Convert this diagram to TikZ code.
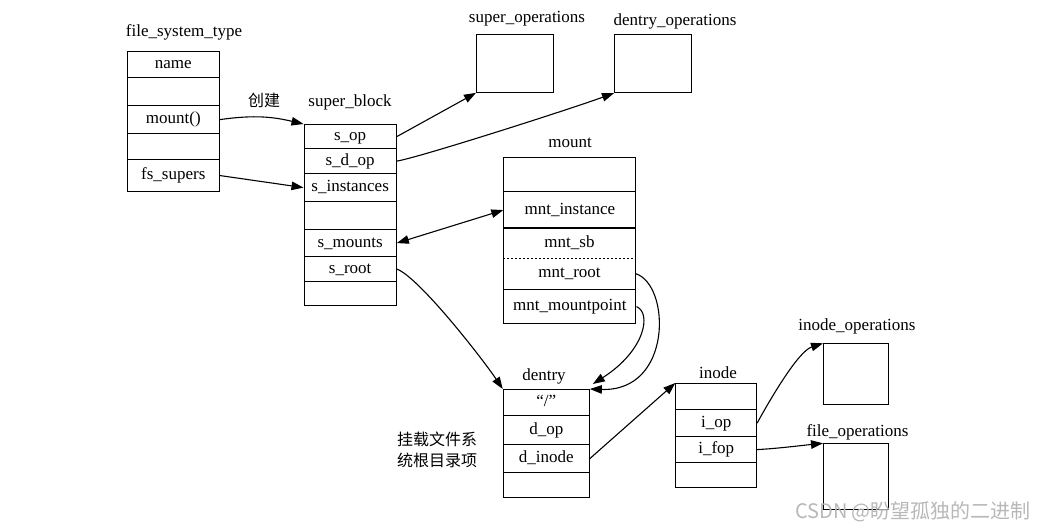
\documentclass[tikz,border=0pt]{standalone}
\usepackage{fontspec}
\setmainfont{Liberation Serif}
\newfontfamily\cjk{Noto Sans CJK SC}
\usetikzlibrary{arrows.meta,calc}
\tikzset{
  row/.style={draw, line width=1.15pt, inner sep=0pt, anchor=north west, font=\fontsize{17}{20}\selectfont, text depth=0pt, text height=8pt},
  plainrow/.style={inner sep=0pt, anchor=north west, font=\fontsize{17}{20}\selectfont, text depth=0pt, text height=8pt},
  opsbox/.style={draw, line width=1.15pt, inner sep=0pt, anchor=north west},
  title/.style={inner sep=0pt, font=\fontsize{17}{20}\selectfont, yshift=-1.5pt},
  cjklabel/.style={inner sep=0pt, font=\cjk\fontsize{16}{21}\selectfont},
  arr/.style={-{Triangle[length=12pt,width=8.5pt]}, line width=1.1pt},
  biarr/.style={{Triangle[length=12pt,width=8.5pt]}-{Triangle[length=12pt,width=8.5pt]}, line width=1.1pt}
}
\begin{document}
\begin{tikzpicture}[x=1pt,y=-1pt]
\path[use as bounding box, fill=white] (0,0) rectangle (1043,531);

% file_system_type
\node[title] (fstT) at (184,30.7) {file\_system\_type};
\node[row, minimum width=92.5pt, minimum height=26pt] (fst1) at (126.5,51) {name};
\node[row, minimum width=92.5pt, minimum height=28pt] (fst2) at (126.5,77) {};
\node[row, minimum width=92.5pt, minimum height=28pt] (fst3) at (126.5,105) {mount()};
\node[row, minimum width=92.5pt, minimum height=26pt] (fst4) at (126.5,133) {};
\node[row, minimum width=92.5pt, minimum height=32pt] (fst5) at (126.5,159) {fs\_supers};

% super_block
\node[title] (sbT) at (350,100.7) {super\_block};
\node[cjklabel] (create) at (264,100) {创建};
\node[row, minimum width=92.2pt, minimum height=24pt] (sb1) at (303.5,124) {s\_op};
\node[row, minimum width=92.2pt, minimum height=25pt] (sb2) at (303.5,148) {s\_d\_op};
\node[row, minimum width=92.2pt, minimum height=28pt] (sb3) at (303.5,173) {s\_instances};
\node[row, minimum width=92.2pt, minimum height=28pt] (sb4) at (303.5,201) {};
\node[row, minimum width=92.2pt, minimum height=27pt] (sb5) at (303.5,229) {s\_mounts};
\node[row, minimum width=92.2pt, minimum height=25pt] (sb6) at (303.5,256) {s\_root};
\node[row, minimum width=92.2pt, minimum height=24pt] (sb7) at (303.5,281) {};

% operations boxes
\node[title] (soT) at (527,17.5) {super\_operations};
\node[opsbox, minimum width=76.7pt, minimum height=57.4pt] (superops) at (476,34.3) {};
\node[title] (doT) at (675,20) {dentry\_operations};
\node[opsbox, minimum width=77.3pt, minimum height=58pt] (dentryops) at (614,34) {};
\node[title] (ioT) at (857,325) {inode\_operations};
\node[opsbox, minimum width=65pt, minimum height=60.7pt] (inodeops) at (823,343.3) {};
\node[title] (foT) at (857.5,430.7) {file\_operations};
\node[opsbox, minimum width=64.5pt, minimum height=65.7pt] (fileops) at (823,443.3) {};

% mount
\node[title] (mntT) at (570,141.7) {mount};
\node[row, minimum width=132pt, minimum height=34pt] (mnt1) at (503.3,157) {};
\node[row, minimum width=132pt, minimum height=37pt] (mnt2) at (503.3,191) {mnt\_instance};
\node[plainrow, minimum width=132pt, minimum height=30pt] (mnt3) at (503.3,228) {mnt\_sb};
\node[plainrow, minimum width=132pt, minimum height=31pt] (mnt4) at (503.3,258) {mnt\_root};
\draw[line width=1.15pt] (mnt3.north west) rectangle (mnt4.south east);
\draw[line width=0.8pt, dash pattern=on 2pt off 2pt] (mnt3.south west) -- (mnt3.south east);
\node[row, minimum width=132pt, minimum height=34pt] (mnt5) at (503.3,289) {mnt\_mountpoint};

% dentry
\node[title] (dT) at (544,375) {dentry};
\node[row, minimum width=86pt, minimum height=26pt] (d1) at (502.7,389) {“/”};
\node[row, minimum width=86pt, minimum height=29pt] (d2) at (502.7,415) {d\_op};
\node[row, minimum width=86pt, minimum height=28pt] (d3) at (502.7,444) {d\_inode};
\node[row, minimum width=86pt, minimum height=25pt] (d4) at (502.7,472) {};
\node[cjklabel] (note1) at (437,439.5) {挂载文件系};
\node[cjklabel] (note2) at (437,460.5) {统根目录项};

% inode
\node[title] (iT) at (718,371) {inode};
\node[row, minimum width=80.7pt, minimum height=26pt] (i1) at (675.3,383) {};
\node[row, minimum width=80.7pt, minimum height=27pt] (i2) at (675.3,409) {i\_op};
\node[row, minimum width=80.7pt, minimum height=26pt] (i3) at (675.3,436) {i\_fop};
\node[row, minimum width=80.7pt, minimum height=25pt] (i4) at (675.3,462) {};

% connectors
\draw[arr] (fst3.east) .. controls +(35,-5) and +(-30,-7) .. (sb1.north west);
\draw[arr] (fst5.east) -- (sb3.west);
\draw[arr] (sb1.east) -- (superops.south west);
\draw[arr] (sb2.east) .. controls +(20,-3) and +(-50,18) .. (dentryops.south west);
\draw[biarr] (sb5.east) -- (mnt2.west);
\draw[arr] (sb6.east) .. controls +(22,8) and +(-20,-30) .. (d1.north west);
\draw[arr] (mnt4.east) .. controls +(35,11) and +(83,3) .. (d1.north east);
\coordinate (d1ne) at ($(d1.north east)+(3,-5)$);
\draw[arr] (mnt5.east) .. controls +(15,6) and +(53,-34) .. (d1ne);
\draw[arr] (d3.east) -- (i1.north west);
\draw[arr] (i2.east) .. controls +(12,-22) and +(-25,8) .. (inodeops.north west);
\draw[arr] (i3.east) .. controls +(20,-1) and +(-20,2) .. (fileops.north west);

% watermark
\node[inner sep=0pt, text=black!28, font=\cjk\fontsize{20}{24}\selectfont] (wm) at (913,512) {CSDN @盼望孤独的二进制};
\end{tikzpicture}
\end{document}
